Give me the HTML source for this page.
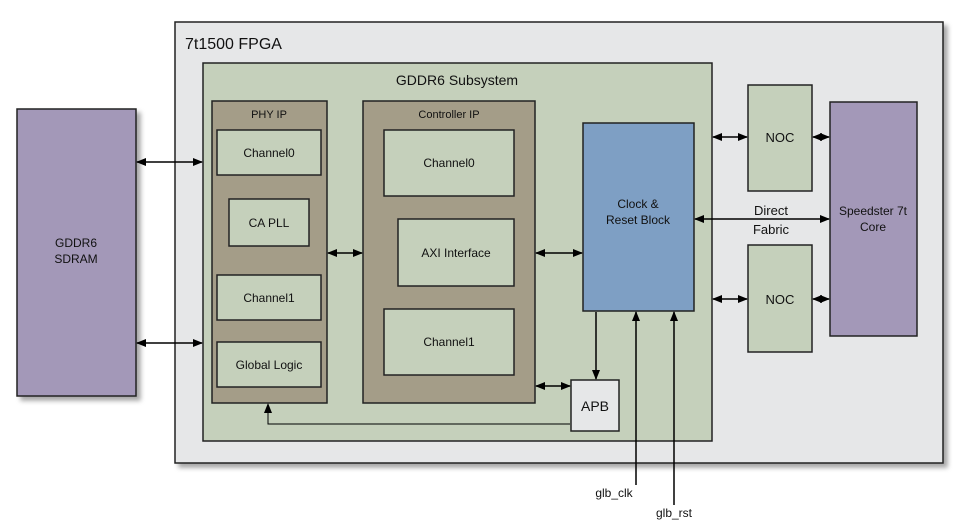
<!DOCTYPE html>
<html><head><style>
body{margin:0;background:#fff;font-family:"Liberation Sans",sans-serif}
</style></head><body>
<svg width="971" height="521" viewBox="0 0 971 521" xmlns="http://www.w3.org/2000/svg" font-family="Liberation Sans, sans-serif">
<defs>
<filter id="sh" x="-10%" y="-10%" width="130%" height="130%"><feDropShadow dx="4" dy="4" stdDeviation="2.5" flood-color="#000" flood-opacity="0.35"/></filter>
<marker id="a" markerWidth="10" markerHeight="8" refX="9" refY="4" orient="auto-start-reverse" markerUnits="userSpaceOnUse"><path d="M0,0L10,4L0,8z" fill="#000"/></marker>
</defs>
<g stroke="#222" stroke-width="1.5" filter="url(#sh)">
<rect x="175" y="22" width="768" height="441" fill="#e6e7e8"/>
<rect x="17" y="109" width="119" height="287" fill="#a398b8"/>
<rect x="203" y="63" width="509" height="378" fill="#c5d0bb"/>
<rect x="748" y="85" width="64" height="106" fill="#c5d0bb"/>
<rect x="748" y="245" width="64" height="107" fill="#c5d0bb"/>
<rect x="830" y="102" width="87" height="234" fill="#a398b8"/>
<rect x="212" y="101" width="115" height="302" fill="#a49d88"/>
<rect x="363" y="101" width="172" height="302" fill="#a49d88"/>
<rect x="217" y="130" width="104" height="45" fill="#c5d0bb"/>
<rect x="229" y="199" width="80" height="47" fill="#c5d0bb"/>
<rect x="217" y="275" width="104" height="45" fill="#c5d0bb"/>
<rect x="217" y="342" width="104" height="45" fill="#c5d0bb"/>
<rect x="384" y="130" width="130" height="66" fill="#c5d0bb"/>
<rect x="398" y="219" width="116" height="67" fill="#c5d0bb"/>
<rect x="384" y="309" width="130" height="66" fill="#c5d0bb"/>
<rect x="583" y="123" width="111" height="188" fill="#7e9fc4"/>
<rect x="571" y="380" width="48" height="51" fill="#e6e7e8"/>
</g>
<g stroke="#000" stroke-width="1.5" fill="none">
<line x1="137" y1="162" x2="202" y2="162" marker-start="url(#a)" marker-end="url(#a)"/>
<line x1="137" y1="343" x2="202" y2="343" marker-start="url(#a)" marker-end="url(#a)"/>
<line x1="328" y1="253" x2="362" y2="253" marker-start="url(#a)" marker-end="url(#a)"/>
<line x1="536" y1="253" x2="582" y2="253" marker-start="url(#a)" marker-end="url(#a)"/>
<line x1="536" y1="386" x2="570" y2="386" marker-start="url(#a)" marker-end="url(#a)"/>
<line x1="713" y1="137" x2="747" y2="137" marker-start="url(#a)" marker-end="url(#a)"/>
<line x1="813" y1="137" x2="829" y2="137" marker-start="url(#a)" marker-end="url(#a)"/>
<line x1="713" y1="299" x2="747" y2="299" marker-start="url(#a)" marker-end="url(#a)"/>
<line x1="813" y1="299" x2="829" y2="299" marker-start="url(#a)" marker-end="url(#a)"/>
<line x1="695" y1="219" x2="829" y2="219" marker-start="url(#a)" marker-end="url(#a)"/>
<line x1="596" y1="312" x2="596" y2="379" marker-end="url(#a)"/>
<line x1="636" y1="485" x2="636" y2="312" marker-end="url(#a)"/>
<line x1="674" y1="505" x2="674" y2="312" marker-end="url(#a)"/>
<polyline points="570,424 268,424 268,404" stroke-width="1" marker-end="url(#a)"/>
</g>
<g font-size="12" text-anchor="middle" fill="#111">
<text x="185" y="49" font-size="16" text-anchor="start">7t1500 FPGA</text>
<text x="457" y="85" font-size="14">GDDR6 Subsystem</text>
<text x="76" y="247">GDDR6</text><text x="76" y="263">SDRAM</text>
<text x="269" y="118" font-size="11">PHY IP</text>
<text x="449" y="118" font-size="11">Controller IP</text>
<text x="269" y="157">Channel0</text>
<text x="269" y="227">CA PLL</text>
<text x="269" y="302">Channel1</text>
<text x="269" y="369">Global Logic</text>
<text x="449" y="167">Channel0</text>
<text x="456" y="257">AXI Interface</text>
<text x="449" y="346">Channel1</text>
<text x="638" y="208">Clock &amp;</text><text x="638" y="224">Reset Block</text>
<text x="595" y="411" font-size="14">APB</text>
<text x="780" y="142" font-size="13">NOC</text>
<text x="780" y="304" font-size="13">NOC</text>
<text x="771" y="215" font-size="13">Direct</text>
<text x="771" y="234" font-size="13">Fabric</text>
<text x="873" y="215">Speedster 7t</text><text x="873" y="231">Core</text>
<text x="614" y="497">glb_clk</text>
<text x="674" y="517">glb_rst</text>
</g>
</svg>
</body></html>
